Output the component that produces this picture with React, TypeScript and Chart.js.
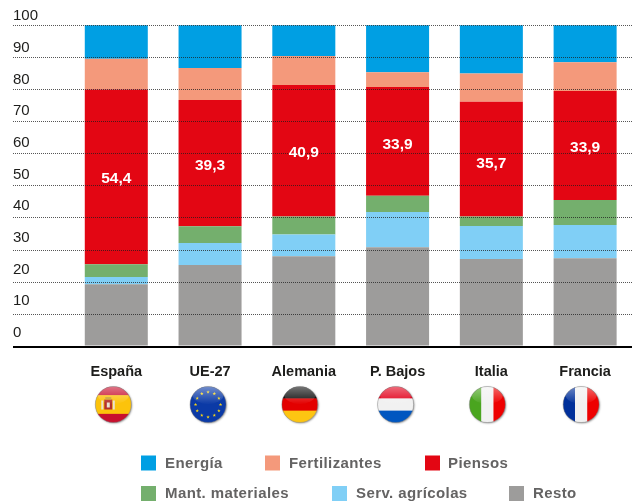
import React, { useEffect, useRef } from "react";
import { Chart, registerables } from "chart.js";

Chart.register(...registerables);

const categories = ["España", "UE-27", "Alemania", "P. Bajos", "Italia", "Francia"];
const resto = [19.4, 25.4, 28.1, 30.9, 27.2, 27.5];
const servAgricolas = [2.2, 6.8, 6.8, 11.0, 10.3, 10.3];
const mantMateriales = [4.0, 5.2, 5.6, 5.0, 3.0, 7.8];
const piensos = [54.4, 39.3, 40.9, 33.9, 35.7, 33.9];
const fertilizantes = [9.6, 10.0, 9.0, 4.6, 8.8, 9.0];
const energia = [10.4, 13.3, 9.6, 14.6, 15.0, 11.5];

const SANS = "'Liberation Sans', Arial, sans-serif";
const LEGEND_SPOTS: Record<string, [number, number, number]> = {
  "Energía": [141, 165, 463],
  "Fertilizantes": [265, 289, 463],
  "Piensos": [425, 448, 463],
  "Mant. materiales": [141, 165, 493.5],
  "Serv. agrícolas": [332, 356, 493.5],
  "Resto": [509, 533, 493.5],
};
const FLAG_SHIFT = [-3, -2, -4, -2, -4, -4];
const LABEL_SHIFT = [1.5, 2, 2, 3, 5, 2.5];
const FLAG_Y = 404.5;
const FLAG_R = 18;

function stripesH(ctx: CanvasRenderingContext2D, r: number, parts: [string, number][]) {
  let y = -r;
  for (const [c, f] of parts) {
    ctx.fillStyle = c;
    ctx.fillRect(-r, y, 2 * r, f * 2 * r + 0.5);
    y += f * 2 * r;
  }
}
function stripesV(ctx: CanvasRenderingContext2D, r: number, parts: [string, number][]) {
  let x = -r;
  for (const [c, f] of parts) {
    ctx.fillStyle = c;
    ctx.fillRect(x, -r, f * 2 * r + 0.5, 2 * r);
    x += f * 2 * r;
  }
}
function star(ctx: CanvasRenderingContext2D, x: number, y: number, s: number) {
  ctx.beginPath();
  for (let i = 0; i < 10; i++) {
    const a = -Math.PI / 2 + (i * Math.PI) / 5;
    const q = i % 2 ? s * 0.42 : s;
    ctx.lineTo(x + q * Math.cos(a), y + q * Math.sin(a));
  }
  ctx.closePath();
  ctx.fill();
}
function drawFlag(ctx: CanvasRenderingContext2D, name: string, cx: number, cy: number, r: number) {
  ctx.save();
  ctx.translate(cx, cy);
  ctx.save();
  ctx.shadowColor = "rgba(0,0,0,0.45)";
  ctx.shadowBlur = 2;
  ctx.shadowOffsetX = 0.8;
  ctx.shadowOffsetY = 0.8;
  ctx.fillStyle = "#bbb";
  ctx.beginPath();
  ctx.arc(0, 0, r, 0, Math.PI * 2);
  ctx.fill();
  ctx.restore();
  ctx.save();
  ctx.beginPath();
  ctx.arc(0, 0, r, 0, Math.PI * 2);
  ctx.clip();
  if (name === "España") {
    stripesH(ctx, r, [["#c8102e", 0.24], ["#fcc30b", 0.52], ["#c8102e", 0.24]]);
    ctx.fillStyle = "#b5302a";
    ctx.fillRect(-9, -5, 8, 10);
    ctx.fillStyle = "#e9e2d0";
    ctx.fillRect(-12, -4, 2, 9);
    ctx.fillRect(-0.5, -4, 2, 9);
    ctx.fillRect(-6.5, -2, 3, 5);
    ctx.fillStyle = "#c9a227";
    ctx.fillRect(-8, -7.5, 6, 2.5);
  } else if (name === "UE-27") {
    stripesH(ctx, r, [["#0b3aa6", 1]]);
    ctx.fillStyle = "#f6d415";
    for (let i = 0; i < 12; i++) {
      const a = (i * Math.PI) / 6;
      star(ctx, 12.5 * Math.cos(a), 12.5 * Math.sin(a), 1.8);
    }
  } else if (name === "Alemania") {
    stripesH(ctx, r, [["#111", 0.33], ["#e30000", 0.34], ["#fdc512", 0.33]]);
  } else if (name === "P. Bajos") {
    stripesH(ctx, r, [["#e2001a", 0.33], ["#f1f1f1", 0.34], ["#0056c0", 0.33]]);
  } else if (name === "Italia") {
    stripesV(ctx, r, [["#4aa51f", 0.33], ["#f1f1f1", 0.34], ["#ee0000", 0.33]]);
  } else {
    stripesV(ctx, r, [["#00309b", 0.33], ["#f1f1f1", 0.34], ["#ee0000", 0.33]]);
  }
  const gloss = ctx.createLinearGradient(0, -r, 0, -r * 0.1);
  gloss.addColorStop(0, "rgba(255,255,255,0.42)");
  gloss.addColorStop(1, "rgba(255,255,255,0.04)");
  ctx.fillStyle = gloss;
  ctx.beginPath();
  ctx.ellipse(0, -r * 0.52, r * 0.86, r * 0.48, 0, 0, Math.PI * 2);
  ctx.fill();
  ctx.restore();
  ctx.strokeStyle = "rgba(120,120,120,0.45)";
  ctx.lineWidth = 0.8;
  ctx.beginPath();
  ctx.arc(0, 0, r, 0, Math.PI * 2);
  ctx.stroke();
  ctx.restore();
}

const decorations = {
  id: "decorations",
  afterDraw(chart: any) {
    const ctx: CanvasRenderingContext2D = chart.ctx;
    const xs = chart.scales.x;
    categories.forEach((name, i) => {
      drawFlag(ctx, name, xs.getPixelForTick(i) + FLAG_SHIFT[i], FLAG_Y, FLAG_R);
    });
    const idx = chart.data.datasets.findIndex((d: any) => d.label === "Piensos");
    const meta = chart.getDatasetMeta(idx);
    ctx.save();
    ctx.fillStyle = "#fff";
    ctx.font = `bold 15.5px ${SANS}`;
    ctx.textAlign = "center";
    ctx.textBaseline = "middle";
    meta.data.forEach((el: any, i: number) => {
      const label = String(chart.data.datasets[idx].data[i].toFixed(1)).replace(".", ",");
      ctx.fillText(label, el.x, (el.y + el.base) / 2 + LABEL_SHIFT[i]);
    });
    ctx.font = `bold 15px ${SANS}`;
    (ctx as any).letterSpacing = "0.4px";
    ctx.textAlign = "left";
    chart.data.datasets.forEach((d: any) => {
      const [bx, tx, y] = LEGEND_SPOTS[d.label];
      ctx.fillStyle = d.backgroundColor;
      ctx.fillRect(bx, y - 7.5, 15, 15);
      ctx.fillStyle = "#646363";
      ctx.fillText(d.label, tx, y + 0.5);
    });
    ctx.restore();
  },
};

export default function App() {
  const ref = useRef<HTMLCanvasElement>(null);
  useEffect(() => {
    document.body.style.margin = "0";
    const bar = { barPercentage: 0.672, categoryPercentage: 1, borderWidth: 0 };
    const isZero = (c: any) => c.tick && c.tick.value === 0;
    const chart = new Chart(ref.current!, {
      type: "bar",
      data: {
        labels: categories,
        datasets: [
          { label: "Resto", data: resto, backgroundColor: "#9D9C9B", ...bar },
          { label: "Serv. agrícolas", data: servAgricolas, backgroundColor: "#80CFF6", ...bar },
          { label: "Mant. materiales", data: mantMateriales, backgroundColor: "#74AF6D", ...bar },
          { label: "Piensos", data: piensos, backgroundColor: "#E30613", ...bar },
          { label: "Fertilizantes", data: fertilizantes, backgroundColor: "#F4997B", ...bar },
          { label: "Energía", data: energia, backgroundColor: "#009FE3", ...bar },
        ],
      },
      plugins: [decorations],
      options: {
        responsive: false,
        animation: false,
        layout: { padding: { left: 13, top: 5, right: 1, bottom: 0 } },
        plugins: { legend: { display: false }, tooltip: { enabled: false } },
        scales: {
          x: {
            stacked: true,
            grid: { display: false },
            border: { display: false },
            ticks: {
              color: "#1d1d1b",
              padding: 9,
              font: { family: SANS, size: 14.5, weight: "bold" },
              maxRotation: 0,
            },
            afterFit(s: any) {
              s.height = 155.5;
              s.paddingLeft = 0;
              s.paddingRight = 0;
            },
          },
          y: {
            stacked: true,
            min: 0,
            max: 106.3,
            position: "left",
            weight: 0,
            border: {
              display: false,
              dash: (c: any) => (isZero(c) ? [] : [1, 1]),
            },
            grid: {
              z: 1,
              drawTicks: true,
              tickLength: 56.4,
              color: (c: any) => (isZero(c) ? "#000" : "rgba(30,30,30,0.75)"),
              tickColor: (c: any) => (isZero(c) ? "#000" : "rgba(30,30,30,0.75)"),
              lineWidth: (c: any) => (isZero(c) ? 2 : 1),
              tickWidth: (c: any) => (isZero(c) ? 2 : 1),
              tickBorderDash: (c: any) => (isZero(c) ? [] : [1, 1]),
            },
            ticks: { display: false, stepSize: 10, includeBounds: false, autoSkip: false },
            afterFit(s: any) {
              s.width = 56.4;
              s.paddingTop = 0;
              s.paddingBottom = 0;
            },
          },
          yLabels: {
            position: "left",
            weight: 1,
            min: -4.26,
            max: 103.47,
            grid: { display: false, drawTicks: false },
            border: { display: false },
            ticks: {
              mirror: true,
              padding: 0,
              stepSize: 10,
              includeBounds: false,
              autoSkip: false,
              color: "#1d1d1b",
              font: { family: SANS, size: 15 },
            },
            afterFit(s: any) {
              s.width = 0;
              s.paddingTop = 0;
              s.paddingBottom = 0;
            },
          },
        },
      } as any,
    });
    return () => chart.destroy();
  }, []);
  return <canvas ref={ref} width={633} height={502} style={{ display: "block" }} />;
}
